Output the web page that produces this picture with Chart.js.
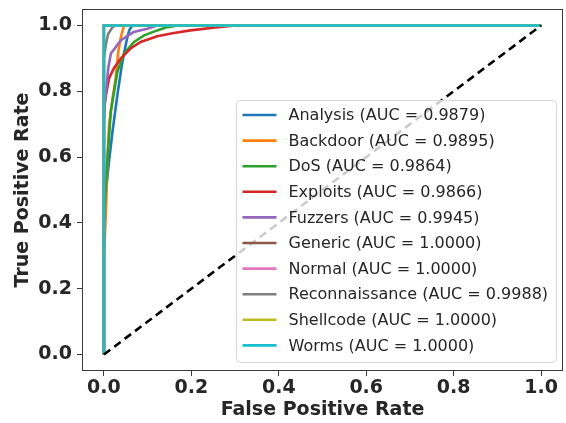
<!DOCTYPE html>
<html>
<head>
<meta charset="utf-8">
<script src="https://cdn.jsdelivr.net/npm/chart.js@4.4.0/dist/chart.umd.min.js"></script>
<style>
    html, body { margin: 0; padding: 0; background: #ffffff; }
    #wrap { width: 566px; height: 423px; }
</style>
</head>
<body>
<div id="wrap"><canvas id="roc"></canvas></div>
<script>
// Class names, AUC values and ROC points
const classNames = ['Analysis', 'Backdoor', 'DoS', 'Exploits', 'Fuzzers',
    'Generic', 'Normal', 'Reconnaissance', 'Shellcode', 'Worms'];
const aucValues = [0.9879, 0.9895, 0.9864, 0.9866, 0.9945, 1.0, 1.0, 0.9988, 1.0, 1.0];
const classColors = ['#1f77b4', '#ff7f0e', '#2ca02c', '#d62728', '#9467bd',
    '#8c564b', '#e377c2', '#7f7f7f', '#bcbd22', '#17becf'];

const analysisFpr = [0, 0, 0.005, 0.012, 0.02, 0.031, 0.04, 0.046, 0.053, 0.058, 0.065, 1];
const analysisTpr = [0, 0.45, 0.5, 0.59, 0.68, 0.79, 0.87, 0.915, 0.96, 0.985, 1, 1];
const backdoorFpr = [0, 0, 0.005, 0.008, 0.012, 0.02, 0.027, 0.033, 0.039, 0.046, 1];
const backdoorTpr = [0, 0.3, 0.44, 0.59, 0.7, 0.78, 0.84, 0.92, 0.965, 1, 1];
const dosFpr = [0, 0, 0.004, 0.008, 0.016, 0.031, 0.046, 0.069, 0.092, 0.122, 0.145, 0.17, 1];
const dosTpr = [0, 0.4, 0.5, 0.59, 0.74, 0.86, 0.914, 0.95, 0.97, 0.985, 0.995, 1, 1];
const exploitsFpr = [0, 0, 0.002, 0.005, 0.012, 0.023, 0.039, 0.061, 0.084, 0.122, 0.16, 0.198, 0.25, 0.3, 1];
const exploitsTpr = [0, 0.7, 0.76, 0.79, 0.84, 0.87, 0.9, 0.93, 0.95, 0.967, 0.977, 0.985, 0.993, 1, 1];
const fuzzersFpr = [0, 0, 0.005, 0.01, 0.016, 0.039, 0.068, 0.099, 0.122, 1];
const fuzzersTpr = [0, 0.75, 0.8, 0.87, 0.915, 0.955, 0.98, 0.99, 1, 1];
const perfectFpr = [0, 0, 1];
const perfectTpr = [0, 1, 1];
const reconFpr = [0, 0, 0.005, 0.01, 0.02, 0.027, 1];
const reconTpr = [0, 0.9, 0.945, 0.975, 0.995, 1, 1];

const fprLists = [analysisFpr, backdoorFpr, dosFpr, exploitsFpr, fuzzersFpr,
    perfectFpr, perfectFpr, reconFpr, perfectFpr, perfectFpr];
const tprLists = [analysisTpr, backdoorTpr, dosTpr, exploitsTpr, fuzzersTpr,
    perfectTpr, perfectTpr, reconTpr, perfectTpr, perfectTpr];

const chanceX = [0, 1];
const chanceY = [0, 1];
const tickValues = [0, 0.2, 0.4, 0.6, 0.8, 1.0];

function toPoints(xs, ys) {
    return xs.map((x, i) => ({ x: x, y: ys[i] }));
}

// later classes sit on top, like matplotlib's draw order
const datasets = classNames.map((name, i) => ({
    label: `${name} (AUC = ${aucValues[i].toFixed(4)})`,
    data: toPoints(fprLists[i], tprLists[i]),
    borderColor: classColors[i],
    backgroundColor: classColors[i],
    borderWidth: 2.6,
    pointRadius: 0,
    showLine: true,
    tension: 0,
    order: classNames.length - i
}));

datasets.push({
    label: 'chance',
    data: toPoints(chanceX, chanceY),
    borderColor: '#000000',
    borderWidth: 2.6,
    borderDash: [8, 5],
    pointRadius: 0,
    showLine: true,
    order: 0,
    inLegend: false
});

// Frame around the plot area (matplotlib style spines)
const framePlugin = {
    id: 'frame',
    afterDraw(chart) {
        const { ctx, chartArea: a } = chart;
        ctx.save();
        ctx.strokeStyle = '#3a3a3a';
        ctx.lineWidth = 1;
        ctx.strokeRect(a.left + 0.5, a.top + 0.5, a.width - 1, a.height - 1);
        ctx.restore();
    }
};

// Legend drawn in the lower-right corner of the plot area
const boxLegendPlugin = {
    id: 'boxLegend',
    afterDatasetsDraw(chart) {
        const { ctx, chartArea: a } = chart;
        const items = chart.data.datasets.filter(d => d.inLegend !== false);
        const rowH = 25.6;
        const boxW = 320, boxH = 262;
        const x0 = a.right - 7 - boxW + 0.5;
        const y0 = a.bottom - 9 - boxH + 0.5;
        ctx.save();
        ctx.beginPath();
        ctx.roundRect(x0, y0, boxW, boxH, 4);
        ctx.fillStyle = 'rgba(255,255,255,0.8)';
        ctx.fill();
        ctx.strokeStyle = '#d6d6d6';
        ctx.lineWidth = 1;
        ctx.stroke();
        ctx.font = '16px "DejaVu Sans"';
        ctx.textBaseline = 'middle';
        ctx.fillStyle = '#262626';
        items.forEach((d, i) => {
            const y = y0 + 14.5 + i * rowH;
            ctx.beginPath();
            ctx.moveTo(x0 + 6, y);
            ctx.lineTo(x0 + 40, y);
            ctx.strokeStyle = d.borderColor;
            ctx.lineWidth = 2.6;
            ctx.stroke();
            ctx.fillText(d.label, x0 + 52, y + 1);
        });
        ctx.restore();
    }
};

const tickFont = { family: 'DejaVu Sans', size: 19, weight: 'bold' };
const titleFont = { family: 'DejaVu Sans', size: 19, weight: 'bold' };

function noPad(s) {
    s.paddingTop = 0; s.paddingBottom = 0; s.paddingLeft = 0; s.paddingRight = 0;
}

new Chart(document.getElementById('roc'), {
    type: 'scatter',
    data: { datasets: datasets },
    options: {
        responsive: true,
        maintainAspectRatio: false,
        animation: false,
        layout: { padding: { top: 9, right: 3, left: 0, bottom: 0 } },
        plugins: {
            legend: { display: false },
            tooltip: { enabled: false }
        },
        scales: {
            x: {
                type: 'linear',
                min: -0.05,
                max: 1.05,
                afterBuildTicks: s => { s.ticks = tickValues.map(v => ({ value: v })); },
                afterFit: s => { s.height = 52; noPad(s); },
                border: { display: false },
                grid: { drawOnChartArea: false, drawTicks: true, tickLength: 5, color: '#3a3a3a', tickWidth: 1 },
                ticks: { font: tickFont, color: '#262626', padding: 1, maxRotation: 0,
                    callback: v => v.toFixed(1) },
                title: { display: true, text: 'False Positive Rate', font: titleFont, color: '#262626',
                    padding: { top: 0, bottom: 2 } }
            },
            y: {
                type: 'linear',
                min: -0.05,
                max: 1.05,
                afterBuildTicks: s => { s.ticks = tickValues.map(v => ({ value: v })); },
                afterFit: s => { s.width = 82; noPad(s); },
                border: { display: false },
                grid: { drawOnChartArea: false, drawTicks: true, tickLength: 5, color: '#3a3a3a', tickWidth: 1 },
                ticks: { font: tickFont, color: '#262626', padding: 5,
                    callback: v => v.toFixed(1) },
                title: { display: true, text: 'True Positive Rate', font: titleFont, color: '#262626',
                    padding: { top: 12, bottom: 0 } }
            }
        }
    },
    plugins: [framePlugin, boxLegendPlugin]
});
</script>
</body>
</html>
